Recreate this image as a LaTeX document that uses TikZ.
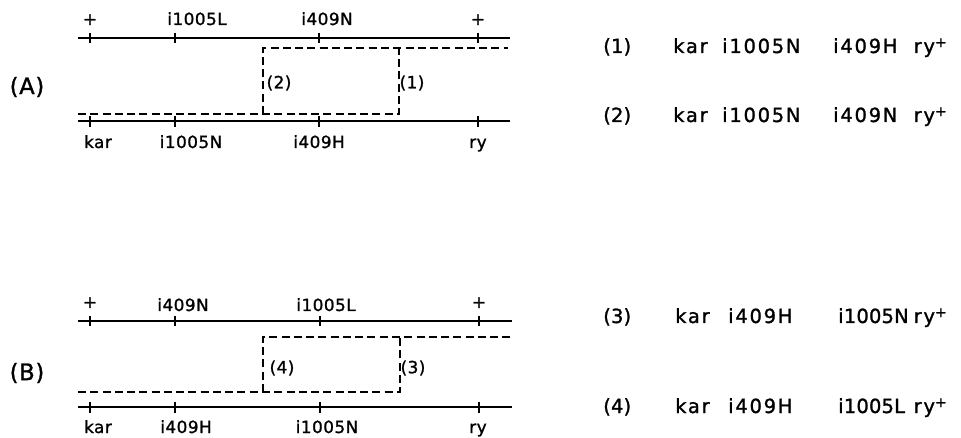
\documentclass[tikz,border=0pt]{standalone}
\usepackage{fontspec}
\setmainfont{DejaVu Sans}
\newfontfamily\lblfont[LetterSpace=3,FakeBold=1.3]{DejaVu Sans}
\newfontfamily\rfont[LetterSpace=9,FakeBold=1.3]{DejaVu Sans}
\newfontfamily\nfont[LetterSpace=1,FakeBold=1.3]{DejaVu Sans}
\newcommand{\supplus}{\raisebox{0.55ex}{\fontsize{10.5}{10}\selectfont +}}
\begin{document}
\begin{tikzpicture}[x=0.75pt,y=-0.75pt,
  chrom/.style={line width=1.4pt},
  tk/.style={line width=1.1pt},
  xo/.style={line width=1.2pt,dash pattern=on 6pt off 3.2pt},
  lbl/.style={font=\lblfont\fontsize{12.6}{14}\selectfont,inner sep=0pt,anchor=base},
  rlbl/.style={font=\rfont\fontsize{14.6}{16}\selectfont,inner sep=0pt,anchor=base west},
  rlbln/.style={font=\nfont\fontsize{14.6}{16}\selectfont,inner sep=0pt,anchor=base west},
  rlble/.style={font=\rfont\fontsize{14.6}{16}\selectfont,inner sep=0pt,anchor=base east},
  big/.style={font=\lblfont\fontsize{17}{19}\selectfont,inner sep=0pt}]
\useasboundingbox (0,0) rectangle (961,438);
\fill[white] (0,0) rectangle (961,438);

% ---------------- (A) ----------------
\node[big] (A) at (27,87) {(A)};
\draw[chrom] (78,38) -- (510,38);
\draw[chrom] (78,121) -- (510,121);
\foreach \x in {90,175,319,478}{
  \draw[tk] (\x,33) -- (\x,43);
  \draw[tk] (\x,116) -- (\x,127);
}
\node[lbl] (at1) at (90,25) {+};
\node[lbl] (at2) at (197,25) {i1005L};
\node[lbl] (at3) at (327,25) {i409N};
\node[lbl] (at4) at (478,25) {+};
\node[lbl] (ab1) at (98,148) {kar};
\node[lbl] (ab2) at (191,148) {i1005N};
\node[lbl] (ab3) at (319,148) {i409H};
\node[lbl] (ab4) at (478,148) {ry};
\draw[xo] (78,114) -- (399,114) -- (399,48);
\draw[xo] (263,114) -- (263,48) -- (508,48);
\node[lbl,anchor=center] (c2) at (279,83) {(2)};
\node[lbl,anchor=center] (c1) at (412,83) {(1)};

% ---------------- (B) ----------------
\node[big] (B) at (27,373) {(B)};
\draw[chrom] (78,321) -- (512,321);
\draw[chrom] (78,407) -- (512,407);
\foreach \x in {90,175,320,479}{
  \draw[tk] (\x,316) -- (\x,326);
  \draw[tk] (\x,402) -- (\x,413);
}
\node[lbl] (bt1) at (90,308) {+};
\node[lbl] (bt2) at (183,311) {i409N};
\node[lbl] (bt3) at (326,311) {i1005L};
\node[lbl] (bt4) at (479,308) {+};
\node[lbl] (bb1) at (98,433) {kar};
\node[lbl] (bb2) at (186,433) {i409H};
\node[lbl] (bb3) at (327,433) {i1005N};
\node[lbl] (bb4) at (478,433) {ry};
\draw[xo] (78,392) -- (400,392) -- (400,337);
\draw[xo] (263,392) -- (263,337) -- (512,337);
\node[lbl,anchor=center] (c4) at (282,368) {(4)};
\node[lbl,anchor=center] (c3) at (413,368) {(3)};

% ---------------- right column ----------------
\node[rlbln] (r1n) at (603,53) {(1)};
\node[rlbl] (r1a) at (673,53) {kar};
\node[rlbl] (r1b) at (722,53) {i1005N};
\node[rlbl] (r1c) at (833,53) {i409H};
\node[rlble] (r1d) at (947,53) {ry\supplus};

\node[rlbln] (r2n) at (603,122) {(2)};
\node[rlbl] (r2a) at (673,122) {kar};
\node[rlbl] (r2b) at (722,122) {i1005N};
\node[rlbl] (r2c) at (833,122) {i409N};
\node[rlble] (r2d) at (947,122) {ry\supplus};

\node[rlbln] (r3n) at (603,323) {(3)};
\node[rlbl] (r3a) at (675,323) {kar};
\node[rlbl] (r3b) at (728,323) {i409H};
\node[rlbln] (r3c) at (838,323) {i1005N};
\node[rlble] (r3d) at (947,323) {ry\supplus};

\node[rlbln] (r4n) at (603,413) {(4)};
\node[rlbl] (r4a) at (675,413) {kar};
\node[rlbl] (r4b) at (728,413) {i409H};
\node[rlbln] (r4c) at (838,413) {i1005L};
\node[rlble] (r4d) at (947,413) {ry\supplus};
\end{tikzpicture}
\end{document}
